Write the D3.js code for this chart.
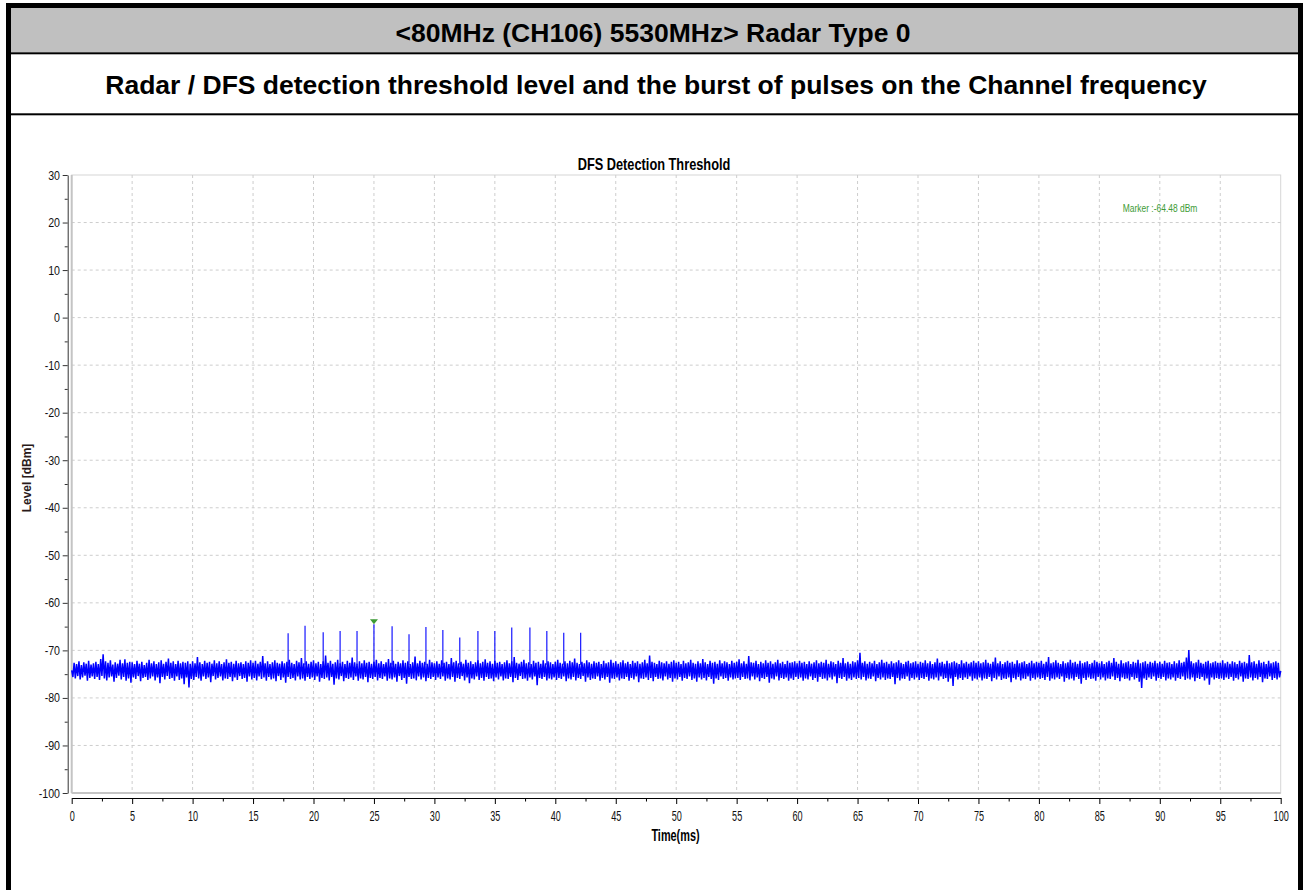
<!DOCTYPE html>
<html>
<head>
<meta charset="utf-8">
<script src="https://cdn.jsdelivr.net/npm/d3@7"></script>
<style>
  body { margin: 0; background: #fff; }
  svg { display: block; }
</style>
</head>
<body>
<svg id="chart"></svg>
<script>
// ---- data ----
const headerTitle = "<80MHz (CH106) 5530MHz> Radar Type 0";
const headerSubtitle = "Radar / DFS detection threshold level and the burst of pulses on the Channel frequency";
const chartTitle = "DFS Detection Threshold";
const xTitle = "Time(ms)";
const yTitle = "Level [dBm]";

const xTicks = [0, 5, 10, 15, 20, 25, 30, 35, 40, 45, 50, 55, 60, 65, 70, 75, 80, 85, 90, 95, 100];
const xMinorTicks = [2.5, 7.5, 12.5, 17.5, 22.5, 27.5, 32.5, 37.5, 42.5, 47.5, 52.5, 57.5, 62.5, 67.5, 72.5, 77.5, 82.5, 87.5, 92.5, 97.5];
const yTicks = [30, 20, 10, 0, -10, -20, -30, -40, -50, -60, -70, -80, -90, -100];
const yMinorTicks = [25, 15, 5, -5, -15, -25, -35, -45, -55, -65, -75, -85, -95];

// radar burst: pulse times (ms) and peak levels (dBm)
const pulseTimes = [17.9, 19.3, 20.8, 22.2, 23.6, 25.0, 26.5, 27.9, 29.3, 30.7, 32.1, 33.6, 35.0, 36.4, 37.9, 39.3, 40.7, 42.1];
const pulseLevels = [-66.4, -64.8, -66.2, -65.9, -65.9, -64.48, -64.9, -66.6, -65.1, -65.7, -67.3, -65.9, -65.9, -65.2, -65.2, -65.9, -66.3, -66.3];
const pulseFloor = -73;

const markerTime = 25.0;
const markerLevel = -64.48;
const markerLabel = "Marker :-64.48 dBm";

// noise trace, one sample every 0.1 ms from 0 to 100 ms
const sampleStep = 0.1;
const traceLevels = [
  -74.2,-75.6,-72.6,-75.9,-72.9,-75.4,-72.3,-76.1,-73.1,-75.7,-72.5,-75.3,-72.8,-76.4,-72.2,-75.8,-73.0,-75.5,-72.7,-76.0,-72.4,-75.6,-72.9,-76.2,-71.8,-75.4,-70.8,-75.9,-72.3,-76.3,-72.6,-75.7,-72.1,-75.5,-73.0,-76.6,-72.5,-75.8,-72.8,-75.3,-72.0,-76.1,-72.7,-75.6,-71.9,-76.4,-72.6,-75.9,-72.4,-76.8,
  -72.5,-75.7,-72.9,-76.0,-72.2,-75.4,-72.8,-76.5,-72.4,-75.8,-73.1,-75.6,-72.6,-76.2,-72.0,-75.9,-72.7,-75.5,-72.3,-76.3,-72.9,-75.7,-72.5,-76.9,-72.1,-75.6,-72.8,-76.1,-72.4,-75.4,-71.7,-76.0,-72.6,-75.8,-72.3,-76.4,-72.9,-75.5,-72.2,-76.2,-72.7,-75.9,-72.4,-77.1,-72.6,-75.7,-72.3,-77.8,-72.8,-76.0,
  -72.3,-76.2,-72.7,-75.6,-71.4,-75.9,-72.5,-76.4,-72.9,-75.5,-72.2,-76.0,-72.6,-75.7,-72.4,-76.7,-72.8,-75.4,-72.1,-76.1,-72.7,-75.8,-72.3,-75.5,-72.9,-76.3,-72.5,-75.9,-71.9,-76.0,-72.6,-75.6,-72.4,-76.5,-72.8,-75.7,-72.2,-76.2,-72.7,-75.4,-72.5,-76.0,-72.9,-75.8,-72.3,-76.6,-72.6,-75.5,-72.1,-76.1,
  -72.6,-75.8,-72.2,-76.3,-72.8,-75.5,-72.4,-76.0,-71.2,-75.7,-72.7,-76.4,-72.3,-75.6,-72.9,-76.1,-72.5,-75.9,-72.1,-76.5,-72.6,-75.4,-72.8,-76.2,-72.3,-75.7,-72.7,-76.8,-72.4,-75.6,-72.0,-76.0,-72.6,-75.8,-72.9,-76.3,-72.2,-75.5,-72.5,-76.1,-71.6,-75.9,-72.7,-76.4,-72.3,-75.6,-72.8,-76.0,-72.4,-75.7,
  -72.1,-76.2,-72.7,-75.5,-72.4,-76.6,-72.9,-75.8,-72.3,-76.0,-71.1,-75.7,-72.6,-76.3,-72.2,-75.6,-72.8,-77.2,-72.5,-75.9,-72.0,-76.1,-72.7,-75.4,-72.4,-76.5,-72.9,-75.8,-72.2,-76.0,-72.6,-75.7,-71.5,-76.2,-72.5,-75.5,-72.8,-76.4,-72.3,-75.9,-72.7,-76.1,-72.1,-75.6,-72.6,-76.7,-72.4,-75.8,-72.8,-76.0,
  -72.4,-75.6,-72.0,-76.3,-72.7,-75.8,-72.3,-76.0,-72.9,-75.5,-72.5,-76.4,-71.8,-75.9,-72.6,-76.1,-72.2,-75.7,-72.8,-76.6,-72.4,-75.4,-72.7,-76.2,-72.1,-75.8,-72.6,-77.0,-72.3,-75.6,-72.9,-76.0,-72.5,-75.9,-71.3,-76.3,-72.7,-75.5,-72.2,-76.1,-72.6,-75.7,-72.4,-76.5,-72.8,-75.8,-72.0,-76.0,-72.5,-75.6,
  -72.7,-76.2,-72.3,-75.7,-72.8,-76.0,-72.1,-75.5,-72.6,-76.4,-72.4,-75.9,-72.9,-76.1,-71.6,-75.6,-72.5,-76.6,-72.2,-75.8,-72.7,-76.0,-72.4,-75.4,-72.8,-76.3,-72.0,-75.7,-72.6,-76.9,-72.3,-75.9,-72.9,-76.1,-72.5,-75.5,-72.1,-76.2,-72.7,-75.8,-72.4,-76.4,-71.9,-75.6,-72.6,-76.0,-72.3,-75.9,-72.8,-76.5,
  -72.2,-75.7,-72.6,-76.1,-72.4,-75.5,-72.9,-76.3,-72.5,-75.9,-72.1,-76.0,-72.7,-75.6,-72.3,-76.7,-71.4,-75.8,-72.6,-76.2,-72.8,-75.4,-72.4,-76.0,-72.0,-75.9,-72.7,-76.4,-72.5,-75.7,-72.9,-76.1,-72.2,-75.5,-72.6,-77.3,-72.4,-75.8,-72.8,-76.0,-72.1,-75.6,-72.7,-76.3,-72.3,-75.9,-72.5,-76.1,-72.9,-75.7,
  -72.4,-76.2,-72.0,-75.8,-72.6,-76.0,-72.8,-75.5,-72.3,-76.5,-72.7,-75.9,-72.2,-76.1,-72.5,-75.6,-71.7,-76.3,-72.6,-75.8,-72.9,-76.0,-72.4,-75.4,-72.7,-76.6,-72.1,-75.7,-72.5,-76.2,-72.8,-75.9,-72.3,-76.0,-72.6,-75.5,-72.4,-76.4,-72.9,-75.8,-72.2,-76.1,-72.7,-75.6,-72.5,-76.8,-72.0,-75.9,-72.6,-76.0,
  -72.3,-75.7,-72.8,-76.3,-72.5,-75.9,-72.1,-76.0,-72.7,-75.6,-72.4,-76.4,-72.9,-75.8,-72.2,-76.1,-72.6,-75.5,-72.3,-76.7,-72.8,-75.9,-72.5,-76.0,-72.0,-75.7,-72.7,-76.2,-71.1,-75.8,-72.4,-76.5,-72.6,-75.6,-72.9,-76.0,-72.2,-75.9,-72.5,-76.3,-72.7,-75.5,-72.3,-76.1,-72.8,-75.8,-72.4,-76.6,-72.1,-75.9,
  -72.6,-76.1,-72.4,-75.6,-72.9,-76.4,-72.2,-75.8,-72.7,-76.0,-72.5,-75.5,-72.0,-76.2,-72.6,-75.9,-72.8,-76.6,-72.3,-75.7,-72.7,-76.1,-71.8,-75.8,-72.5,-76.3,-72.9,-75.6,-72.2,-76.0,-72.6,-77.0,-72.4,-75.9,-72.8,-76.2,-72.1,-75.5,-72.7,-76.0,-72.3,-75.8,-72.5,-76.4,-72.9,-75.7,-72.2,-76.1,-72.6,-75.9,
  -72.4,-75.8,-71.9,-76.2,-72.7,-75.6,-72.3,-76.0,-72.8,-75.9,-71.2,-76.3,-72.5,-75.5,-72.6,-76.1,-72.2,-75.7,-72.9,-76.5,-72.4,-75.8,-72.7,-76.0,-72.1,-75.6,-72.6,-76.8,-72.3,-75.9,-72.8,-76.1,-72.5,-75.5,-72.0,-76.3,-72.7,-75.8,-72.4,-76.0,-72.9,-75.7,-72.2,-76.4,-72.6,-75.9,-72.5,-76.2,-72.3,-75.6,
  -72.7,-76.0,-72.2,-75.7,-72.6,-76.4,-72.4,-75.9,-72.9,-76.1,-72.3,-75.5,-72.8,-76.2,-72.5,-75.8,-72.1,-76.6,-72.7,-75.6,-72.4,-76.0,-72.6,-75.9,-72.0,-76.3,-72.8,-75.7,-72.3,-76.1,-72.5,-75.5,-72.9,-76.9,-72.2,-75.8,-72.6,-76.0,-71.6,-75.6,-72.7,-76.4,-72.4,-75.9,-72.8,-76.2,-72.3,-75.7,-72.5,-76.0,
  -72.1,-75.8,-70.5,-76.1,-72.6,-75.6,-72.3,-76.3,-72.8,-75.9,-72.4,-76.0,-72.7,-75.5,-72.2,-76.5,-72.9,-75.8,-72.5,-76.1,-72.0,-75.7,-72.6,-76.2,-72.4,-75.9,-72.8,-76.0,-72.3,-75.6,-72.7,-77.1,-72.5,-75.8,-72.1,-76.3,-72.6,-75.9,-72.9,-76.0,-72.4,-75.5,-72.2,-76.4,-72.7,-75.8,-72.5,-76.1,-72.3,-75.7,
  -72.8,-76.2,-72.4,-75.8,-72.6,-76.0,-72.1,-75.6,-72.7,-76.4,-72.3,-75.9,-72.9,-76.1,-72.5,-75.7,-71.7,-76.3,-72.6,-75.5,-72.4,-76.0,-72.8,-75.8,-72.2,-76.6,-72.7,-75.9,-72.5,-77.5,-72.3,-75.6,-72.6,-76.1,-72.9,-75.8,-72.1,-76.2,-72.7,-75.7,-72.4,-76.0,-72.8,-75.5,-72.5,-76.4,-72.2,-75.9,-72.6,-76.1,
  -72.3,-75.7,-72.7,-76.3,-72.5,-75.9,-72.0,-76.0,-72.6,-75.6,-72.8,-76.5,-72.4,-75.8,-71.5,-76.1,-72.7,-75.5,-72.3,-76.2,-72.9,-75.9,-72.5,-76.0,-72.2,-75.7,-72.6,-76.7,-72.4,-75.8,-72.8,-76.1,-72.1,-75.6,-72.7,-76.3,-72.5,-75.9,-72.3,-76.0,-72.9,-75.5,-72.6,-76.4,-72.2,-75.8,-72.7,-76.1,-72.4,-75.7,
  -72.6,-76.0,-72.2,-75.8,-72.8,-76.2,-72.4,-75.6,-71.4,-76.4,-72.7,-75.9,-72.5,-76.1,-72.1,-75.7,-72.6,-76.0,-72.9,-75.5,-72.3,-76.6,-72.7,-75.8,-72.5,-76.1,-72.0,-75.9,-72.6,-76.3,-72.4,-75.6,-72.8,-76.0,-72.2,-77.0,-72.7,-75.8,-72.5,-76.2,-72.3,-75.7,-72.9,-76.0,-72.6,-75.9,-72.1,-76.4,-72.4,-75.6,
  -72.7,-76.1,-72.3,-75.7,-72.9,-76.3,-72.5,-75.9,-72.2,-76.0,-72.6,-75.5,-71.6,-76.2,-72.4,-75.8,-72.8,-76.5,-72.1,-75.7,-72.7,-76.0,-72.5,-75.9,-72.3,-76.3,-72.9,-75.6,-72.4,-76.1,-72.6,-75.8,-72.0,-76.6,-72.7,-77.9,-72.5,-75.9,-72.3,-76.2,-72.8,-75.7,-72.4,-76.0,-72.6,-75.5,-72.2,-76.4,-72.7,-75.8,
  -72.4,-76.0,-72.8,-75.6,-72.2,-76.3,-72.6,-75.9,-72.5,-76.1,-72.9,-75.7,-72.3,-76.4,-72.7,-75.8,-72.1,-76.0,-72.6,-75.5,-72.4,-76.2,-71.5,-75.9,-69.9,-76.1,-72.3,-75.7,-72.7,-76.5,-72.5,-75.8,-72.0,-76.0,-72.6,-75.6,-72.8,-76.3,-72.4,-75.9,-72.2,-77.2,-72.7,-75.7,-72.5,-76.1,-72.3,-75.8,-72.6,-76.0,
  -72.6,-75.9,-72.1,-76.2,-72.7,-75.7,-72.4,-76.0,-72.8,-75.6,-72.3,-76.4,-72.5,-75.8,-72.9,-76.1,-72.2,-75.5,-72.6,-76.6,-72.4,-75.9,-72.7,-76.0,-71.0,-75.7,-72.5,-76.3,-72.3,-75.8,-72.8,-76.1,-72.1,-75.6,-72.6,-76.7,-72.4,-75.9,-72.9,-76.0,-72.2,-75.5,-72.7,-76.2,-72.5,-75.8,-72.3,-76.1,-72.6,-75.7,
  -74.3
];

// ---- layout ----
const width = 1303;
const height = 890;
const plotLeft = 71.7;
const plotRight = 1280.7;
const plotTop = 175;
const plotBottom = 793;
const font = "'Liberation Sans', Arial, Helvetica, sans-serif";
const traceColor = "#0000ff";
const markerColor = "#3d9b35";

let svg = d3.select("#chart").attr("width", width).attr("height", height);

const xScale = d3.scaleLinear().domain([0, 100]).range([plotLeft, plotRight]);
const yScale = d3.scaleLinear().domain([-100, 30]).range([plotBottom, plotTop]);

// text that is squeezed horizontally like the narrow font of the original
const narrowText = (parent, x, y, str, size, sx, opts = {}) => {
  let g = parent.append("g").attr("transform", `translate(${x},${y}) scale(${sx},1)`);
  return g
    .append("text")
    .attr("text-anchor", opts.anchor || "middle")
    .attr("font-family", font)
    .attr("font-size", size)
    .attr("font-weight", opts.weight || "normal")
    .attr("fill", opts.fill || "#000")
    .text(str);
};

const drawFrame = () => {
  svg.append("rect").attr("width", width).attr("height", height).attr("fill", "#fff");
  // grey header band
  svg.append("rect").attr("x", 11).attr("y", 8).attr("width", 1287).attr("height", 44.3).attr("fill", "#c0c0c0");
  // separator lines
  svg.append("rect").attr("x", 11).attr("y", 52.3).attr("width", 1287).attr("height", 2).attr("fill", "#000");
  svg.append("rect").attr("x", 11).attr("y", 113.3).attr("width", 1287).attr("height", 2).attr("fill", "#000");
  // thick outer border (left, top, right)
  svg.append("rect").attr("x", 6).attr("y", 3).attr("width", 5).attr("height", height - 3).attr("fill", "#000");
  svg.append("rect").attr("x", 6).attr("y", 3).attr("width", width - 6).attr("height", 5).attr("fill", "#000");
  svg.append("rect").attr("x", 1298).attr("y", 3).attr("width", 5).attr("height", height - 3).attr("fill", "#000");

  svg.append("text")
    .attr("x", 653).attr("y", 41.5)
    .attr("text-anchor", "middle")
    .attr("font-family", font).attr("font-size", 26.5).attr("font-weight", "bold")
    .text(headerTitle);
  svg.append("text")
    .attr("x", 656).attr("y", 93.5)
    .attr("text-anchor", "middle")
    .attr("font-family", font).attr("font-size", 26.5).attr("font-weight", "bold")
    .text(headerSubtitle);
};

const drawPlotArea = () => {
  svg.append("rect")
    .attr("x", plotLeft).attr("y", plotTop)
    .attr("width", plotRight - plotLeft).attr("height", plotBottom - plotTop)
    .attr("fill", "#fff").attr("stroke", "#d6d6d6").attr("stroke-width", 1);

  //dashed grid at every labelled tick
  svg.append("g")
    .selectAll("line")
    .data(xTicks.slice(1, -1))
    .enter()
    .append("line")
    .attr("x1", (d) => xScale(d)).attr("x2", (d) => xScale(d))
    .attr("y1", plotTop).attr("y2", plotBottom)
    .attr("stroke", "#cdcdcd").attr("stroke-dasharray", "3,3");

  svg.append("g")
    .selectAll("line")
    .data(yTicks.slice(1, -1))
    .enter()
    .append("line")
    .attr("x1", plotLeft).attr("x2", plotRight)
    .attr("y1", (d) => yScale(d)).attr("y2", (d) => yScale(d))
    .attr("stroke", "#cdcdcd").attr("stroke-dasharray", "3,3");

  // slightly heavier left / bottom edge of the plot frame
  svg.append("line")
    .attr("x1", plotLeft).attr("x2", plotLeft).attr("y1", plotTop).attr("y2", plotBottom)
    .attr("stroke", "#c4c4c4").attr("stroke-width", 2);
  svg.append("line")
    .attr("x1", plotLeft).attr("x2", plotRight).attr("y1", plotBottom).attr("y2", plotBottom)
    .attr("stroke", "#c4c4c4").attr("stroke-width", 2);
};

const drawAxes = () => {
  const ySx = 0.85;
  const xSx = 0.65;
  // plain hyphen for negatives, as in the original
  const plain = (d) => String(d);

  let yAxis = svg.append("g")
    .attr("transform", `translate(${plotLeft - 4}, 0)`)
    .call(d3.axisLeft(yScale).tickValues(yTicks).tickFormat(plain).tickSize(5).tickSizeOuter(0));
  yAxis.select(".domain").attr("stroke", "#333");
  yAxis.selectAll(".tick line").attr("stroke", "#333");
  yAxis.selectAll("text")
    .attr("font-family", font).attr("font-size", 12.5).attr("fill", "#111")
    .attr("x", -7.7 / ySx)
    .attr("transform", `scale(${ySx},1)`);

  let yMinor = svg.append("g")
    .attr("transform", `translate(${plotLeft - 4}, 0)`)
    .call(d3.axisLeft(yScale).tickValues(yMinorTicks).tickSize(3).tickFormat(""));
  yMinor.select(".domain").remove();
  yMinor.selectAll(".tick line").attr("stroke", "#333");

  let xAxis = svg.append("g")
    .attr("transform", `translate(0, ${plotBottom + 5})`)
    .call(d3.axisBottom(xScale).tickValues(xTicks).tickFormat(plain).tickSize(6).tickSizeOuter(0));
  xAxis.select(".domain").attr("stroke", "#000");
  xAxis.selectAll(".tick line").attr("stroke", "#000");
  xAxis.selectAll("text")
    .attr("font-family", font).attr("font-size", 14).attr("fill", "#111")
    .attr("y", 13)
    .attr("transform", `scale(${xSx},1)`);

  let xMinor = svg.append("g")
    .attr("transform", `translate(0, ${plotBottom + 5})`)
    .call(d3.axisBottom(xScale).tickValues(xMinorTicks).tickSize(3.5).tickFormat(""));
  xMinor.select(".domain").remove();
  xMinor.selectAll(".tick line").attr("stroke", "#000");
};

const drawTitles = () => {
  narrowText(svg, 654, 170, chartTitle, 16, 0.8, { weight: "bold" });
  narrowText(svg, 675.5, 841, xTitle, 16.5, 0.66, { weight: "bold" });

  svg.append("text")
    .attr("transform", "translate(31, 478) rotate(-90)")
    .attr("text-anchor", "middle")
    .attr("font-family", font).attr("font-size", 12).attr("font-weight", "bold")
    .attr("fill", "#2a1a1a")
    .text(yTitle);

  narrowText(svg, 1122.7, 211.5, markerLabel, 11, 0.77, { anchor: "start", fill: markerColor });
};

const drawTrace = () => {
  const line = d3.line()
    .x((d, i) => xScale(i * sampleStep))
    .y((d) => yScale(d));

  svg.append("path")
    .datum(traceLevels)
    .attr("d", line)
    .attr("fill", "none")
    .attr("stroke", traceColor)
    .attr("stroke-width", 1.5)
    .attr("stroke-linejoin", "bevel");

  //the burst of radar pulses sticking out of the noise floor
  svg.append("g")
    .selectAll("line")
    .data(pulseTimes)
    .enter()
    .append("line")
    .attr("x1", (t) => xScale(t)).attr("x2", (t) => xScale(t))
    .attr("y1", yScale(pulseFloor))
    .attr("y2", (t, i) => yScale(pulseLevels[i]))
    .attr("stroke", traceColor)
    .attr("stroke-width", 1.1);

  // marker: small green triangle pointing down at the peak
  const mx = xScale(markerTime);
  const my = yScale(markerLevel);
  svg.append("path")
    .attr("d", `M${mx - 4},${my - 5}L${mx + 4},${my - 5}L${mx},${my}Z`)
    .attr("fill", markerColor);
};

drawFrame();
drawPlotArea();
drawAxes();
drawTrace();
drawTitles();
</script>
</body>
</html>
